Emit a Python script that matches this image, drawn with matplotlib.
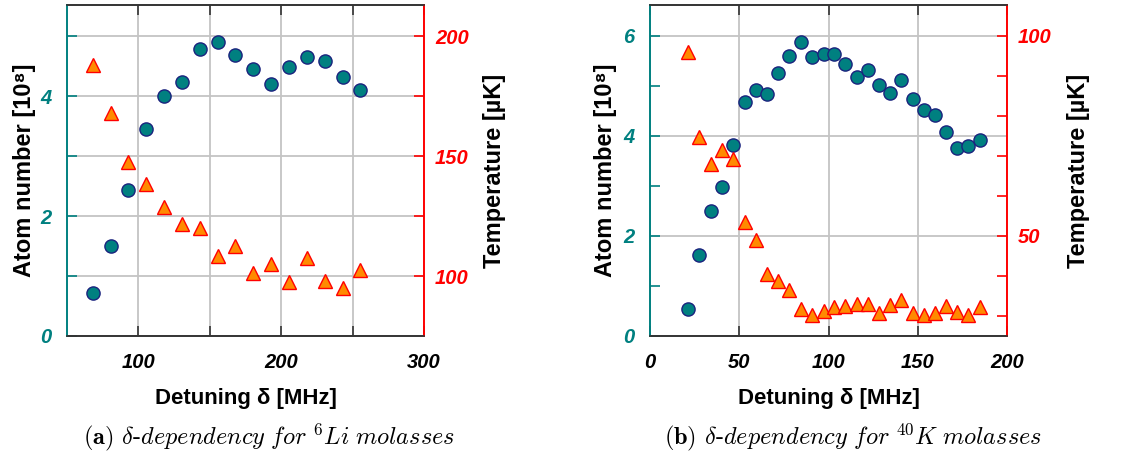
import numpy as np
import matplotlib
matplotlib.use('Agg')
import matplotlib.pyplot as plt
from matplotlib.ticker import FixedLocator, NullFormatter

plt.rcParams['font.family'] = ['Liberation Sans', 'DejaVu Sans']
plt.rcParams['mathtext.fontset'] = 'cm'

# (a) 6Li molasses
li_detuning = [68, 80.5, 93, 105.5, 118, 130.5, 143, 155.5, 168, 180.5,
               193, 205.5, 218, 230.5, 243, 255.5]
li_atoms = [0.71, 1.50, 2.43, 3.46, 4.00, 4.24, 4.79, 4.91, 4.68, 4.45,
            4.21, 4.48, 4.66, 4.58, 4.32, 4.11]
li_temp = [187.9, 167.8, 147.4, 138.3, 128.9, 121.7, 119.9, 108.5, 112.6,
           101.4, 105.0, 97.6, 107.6, 97.9, 94.9, 102.4]

# (b) 40K molasses
k_detuning = [21.1, 27.7, 34.0, 40.4, 46.7, 53.1, 59.4, 65.6, 71.8, 78.1,
              84.5, 90.8, 97.2, 103.2, 109.3, 115.7, 122.1, 128.2, 134.4,
              140.7, 147.1, 153.5, 159.8, 165.8, 172.0, 178.3, 184.7]
k_atoms = [0.53, 1.61, 2.49, 2.97, 3.82, 4.67, 4.91, 4.83, 5.25, 5.59,
           5.87, 5.57, 5.64, 5.64, 5.44, 5.17, 5.31, 5.02, 4.85, 5.11,
           4.74, 4.51, 4.42, 4.07, 3.75, 3.80, 3.92]
k_temp = [96.1, 74.8, 67.9, 71.5, 69.3, 53.4, 49.0, 40.5, 38.75, 36.5,
          31.7, 30.25, 31.3, 32.2, 32.5, 33.0, 33.0, 30.7, 32.75, 34.0,
          30.7, 30.25, 30.7, 32.5, 30.9, 30.25, 32.3]

TEAL = '#008080'
RED = '#ff0000'
SPINE = '#333333'
GRID = '#c4c4c4'

fig = plt.figure(figsize=(11.41, 4.57), dpi=100)


def panel(rect, x, n, t, xlim, xmaj, xmin, nlim, nmaj, nmin, tlim, tmaj, tmin,
          ygrid_which, caption, cap_x, ylab_x, ylab2_x):
    ax = fig.add_axes(rect)
    ax2 = ax.twinx()
    ax.set_xlim(*xlim)
    ax.set_ylim(*nlim)
    ax2.set_ylim(*tlim)

    ax.xaxis.set_major_locator(FixedLocator(xmaj))
    ax.xaxis.set_minor_locator(FixedLocator(xmin))
    ax.yaxis.set_major_locator(FixedLocator(nmaj))
    ax.yaxis.set_minor_locator(FixedLocator(nmin))
    ax2.yaxis.set_major_locator(FixedLocator(tmaj))
    ax2.yaxis.set_minor_locator(FixedLocator(tmin))
    for a in (ax.xaxis, ax.yaxis, ax2.yaxis):
        a.set_minor_formatter(NullFormatter())

    ax.grid(True, which='both', axis='x', color=GRID, lw=1.3)
    ax.grid(True, which=ygrid_which, axis='y', color=GRID, lw=1.3)
    ax.set_axisbelow(True)

    ax.tick_params(axis='x', which='both', direction='in', length=7, width=1.2,
                   top=True, bottom=True, color=SPINE, pad=12,
                   labelsize=14.5)
    ax.tick_params(axis='y', which='both', direction='in', length=7, width=1.2,
                   color=TEAL, labelcolor=TEAL, pad=11, labelsize=14.5)
    ax2.tick_params(axis='y', which='both', direction='in', length=7,
                    width=1.2, color=RED, labelcolor=RED, pad=8,
                    labelsize=14.5)
    for lab in ax.get_xticklabels() + ax.get_yticklabels() + ax2.get_yticklabels():
        lab.set_fontweight('bold')
        lab.set_fontstyle('italic')

    for a in (ax, ax2):
        a.spines['top'].set_color(SPINE)
        a.spines['bottom'].set_color(SPINE)
        a.spines['left'].set_color(TEAL)
        a.spines['right'].set_color(RED)
        for s in a.spines.values():
            s.set_linewidth(1.2)

    ax.plot(x, n, 'o', ms=9.5, mfc=TEAL, mec='#1a237e', mew=1.0,
            clip_on=False, zorder=3)
    ax2.plot(x, t, '^', ms=9.5, mfc='#ff8a00', mec=RED, mew=1.0,
             clip_on=False, zorder=3)

    ax.set_xlabel('Detuning δ [MHz]', fontsize=16, fontweight='bold',
                  labelpad=12)
    ax.set_ylabel('Atom number [10⁸]', fontsize=17, fontweight='bold')
    ax2.set_ylabel('Temperature [µK]', fontsize=17, fontweight='bold')
    ax.yaxis.set_label_coords(ylab_x, 0.5)
    ax2.yaxis.set_label_coords(ylab2_x, 0.5)

    fig.text(cap_x, 0.043, caption, ha='center', va='center', fontsize=17.5,
             family='cmr10')


panel([0.0587, 0.2648, 0.3129, 0.7243], li_detuning, li_atoms, li_temp,
      (50, 300), [100, 200, 300], [150, 250],
      (0, 5.52), [0, 2, 4], [1, 3, 5],
      (75, 213), [100, 150, 200], [125, 175], 'both',
      r'$\mathbf{(a)}$ $\mathit{\delta}$-$\mathit{dependency\ for\ {}^{6}Li\ molasses}$',
      0.236, -0.087, 1.165)

panel([0.5697, 0.2648, 0.3129, 0.7243], k_detuning, k_atoms, k_temp,
      (0, 200), [0, 50, 100, 150, 200], [],
      (0, 6.62), [0, 2, 4, 6], [1, 3, 5],
      (25, 107.75), [50, 100], [30, 40, 60, 70, 80, 90], 'major',
      r'$\mathbf{(b)}$ $\mathit{\delta}$-$\mathit{dependency\ for\ {}^{40}K\ molasses}$',
      0.748, -0.093, 1.168)

fig.savefig('out.png', dpi=100)
